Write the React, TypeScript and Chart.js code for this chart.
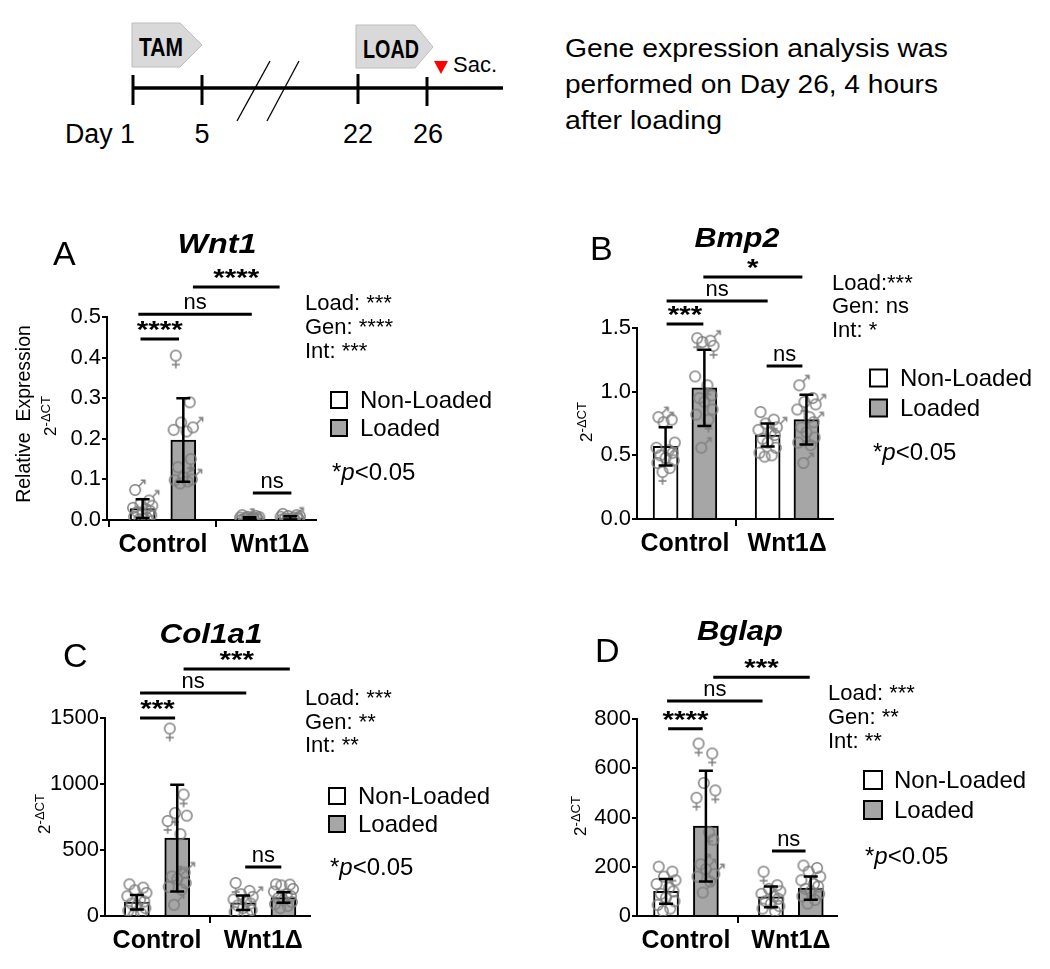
import React, { useEffect, useRef } from "react";
import { Chart, registerables } from "chart.js";
Chart.register(...registerables);

const FONT = "Arial, 'Liberation Sans', Helvetica, sans-serif";
const GROUPS = ["Control", "Wnt1Δ"];
const SERIES = ["Non-Loaded", "Loaded"];
const BAR_GREY = "#a6a6a6";
const PT_GREY = "#7f7f7f";

// ---------- Panel A : Wnt1 ----------
const A_MEAN_NL = [0.028, 0.004];
const A_MEAN_L = [0.197, 0.005];
const A_SD_NL = [0.023, 0.003];
const A_SD_L = [0.103, 0.004];
const A_CTRL_NL = [0.074, 0.048, 0.04, 0.035, 0.03, 0.027, 0.022, 0.02, 0.015, 0.012, 0.008, 0.005, 0.002];
const A_CTRL_NL_SEX = "mmoooooooooof";
const A_CTRL_L = [0.405, 0.29, 0.24, 0.228, 0.222, 0.218, 0.15, 0.13, 0.105, 0.1, 0.098, 0.095, 0.09];
const A_CTRL_L_SEX = "foomoofommooo";
const A_WNT_NL = [0.012, 0.01, 0.008, 0.007, 0.006, 0.005, 0.004, 0.003, 0.002, 0.001, 0.0, 0.004, 0.006];
const A_WNT_NL_SEX = "ooooooomoofoo";
const A_WNT_L = [0.015, 0.012, 0.01, 0.009, 0.008, 0.006, 0.005, 0.004, 0.003, 0.002, 0.001, 0.0, 0.0];
const A_WNT_L_SEX = "ooooomoooofoo";
const A_TICKS = [0, 0.1, 0.2, 0.3, 0.4, 0.5];
const A_BRACKETS: [number, number, number, string][] = [
  [0.28, 1.09, 0.574, "****"],
  [-0.23, 0.83, 0.507, "ns"],
  [-0.21, 0.15, 0.446, "****"],
  [0.84, 1.2, 0.0665, "ns"],
];
const A_STATS = ["Load: ***", "Gen: ****", "Int: ***"];

// ---------- Panel B : Bmp2 ----------
const B_MEAN_NL = [0.57, 0.66];
const B_MEAN_L = [1.03, 0.78];
const B_SD_NL = [0.15, 0.09];
const B_SD_L = [0.3, 0.195];
const B_CTRL_NL = [0.8, 0.78, 0.76, 0.6, 0.56, 0.54, 0.52, 0.5, 0.48, 0.46, 0.44, 0.4, 0.37];
const B_CTRL_NL_SEX = "momooooomooof";
const B_CTRL_L = [1.42, 1.4, 1.39, 1.36, 1.12, 1.05, 0.97, 0.95, 0.92, 0.86, 0.82, 0.78, 0.56];
const B_CTRL_L_SEX = "fmofofomooofm";
const B_WNT_NL = [0.84, 0.78, 0.75, 0.72, 0.7, 0.68, 0.66, 0.63, 0.6, 0.56, 0.52, 0.5, 0.49];
const B_WNT_NL_SEX = "ofomooooooooo";
const B_WNT_L = [1.05, 0.95, 0.92, 0.9, 0.86, 0.8, 0.76, 0.72, 0.68, 0.64, 0.6, 0.58, 0.44];
const B_WNT_L_SEX = "mofmoomofooom";
const B_TICKS = [0, 0.5, 1.0, 1.5];
const B_BRACKETS: [number, number, number, string][] = [
  [0.18, 1.15, 1.901, "*"],
  [-0.18, 0.81, 1.712, "ns"],
  [-0.18, 0.18, 1.532, "***"],
  [0.8, 1.15, 1.202, "ns"],
];
const B_STATS = ["Load:***", "Gen: ns", "Int: *"];

// ---------- Panel C : Col1a1 ----------
const C_MEAN_NL = [105, 100];
const C_MEAN_L = [590, 140];
const C_SD_NL = [55, 55];
const C_SD_L = [405, 40];
const C_CTRL_NL = [240, 215, 195, 175, 150, 125, 110, 95, 80, 60, 40, 20, 5];
const C_CTRL_NL_SEX = "ooooooooooooo";
const C_CTRL_L = [1420, 920, 780, 760, 720, 620, 330, 300, 280, 250, 220, 200, 85];
const C_CTRL_L_SEX = "fffofommmomom";
const C_WNT_NL = [250, 190, 165, 145, 125, 110, 95, 80, 60, 45, 30, 15];
const C_WNT_NL_SEX = "foomoooooooo";
const C_WNT_L = [240, 238, 232, 205, 185, 165, 150, 135, 120, 105, 90, 75, 60];
const C_WNT_L_SEX = "ooooooooooooo";
const C_TICKS = [0, 500, 1000, 1500];
const C_BRACKETS: [number, number, number, string][] = [
  [0.25, 1.25, 1871, "***"],
  [-0.16, 0.84, 1689, "ns"],
  [-0.16, 0.17, 1500, "***"],
  [0.83, 1.17, 371, "ns"],
];
const C_STATS = ["Load: ***", "Gen: **", "Int: **"];

// ---------- Panel D : Bglap ----------
const D_MEAN_NL = [100, 78];
const D_MEAN_L = [365, 113];
const D_SD_NL = [50, 42];
const D_SD_L = [225, 47];
const D_CTRL_NL = [200, 180, 160, 145, 130, 115, 100, 90, 75, 60, 45, 30, 20];
const D_CTRL_NL_SEX = "ofooooooooooo";
const D_CTRL_L = [700, 660, 540, 510, 480, 340, 310, 210, 190, 170, 160, 140, 95];
const D_CTRL_L_SEX = "ffofffommmoom";
const D_WNT_NL = [180, 125, 110, 100, 90, 80, 70, 60, 50, 40, 30, 20];
const D_WNT_NL_SEX = "fooooooooooo";
const D_WNT_L = [205, 195, 180, 160, 145, 130, 120, 110, 100, 90, 80, 65, 50];
const D_WNT_L_SEX = "ooooooooooooo";
const D_TICKS = [0, 200, 400, 600, 800];
const D_BRACKETS: [number, number, number, string][] = [
  [0.26, 1.18, 970, "***"],
  [-0.18, 0.73, 873, "ns"],
  [-0.17, 0.16, 760, "****"],
  [0.82, 1.14, 264, "ns"],
];
const D_STATS = ["Load: ***", "Gen: **", "Int: **"];

// layout constants
const OFF = 0.19; // half distance between bars of a group (category units)
const JITTER = [-0.07, 0.06, -0.02, 0.09, -0.09, 0.03, 0.07, -0.05, 0.0, 0.08, -0.08, 0.04, -0.03, 0.05];
const YW = 60;
const XH = 45;
const CAP = 7;

interface PanelCfg {
  letter: string;
  title: string;
  titleW: number;
  meanNL: number[];
  meanL: number[];
  sdNL: number[];
  sdL: number[];
  points: number[][];
  sexes: string[];
  yTicks: number[];
  decimals: number;
  brackets: [number, number, number, string][];
  stats: string[];
  area: [number, number, number, number]; // l,t,r,b
  xRange: [number, number];
  letterAt: [number, number];
  titleAt: [number, number];
  statsAt: [number, number[]];
  legendAt: [number, number, number, number, number];
  pAt: [number, number];
  yTitleAt: [number, number];
  relAt?: [number, number];
}

const PANELS: PanelCfg[] = [
  {
    letter: "A", title: "Wnt1", titleW: 79,
    meanNL: A_MEAN_NL, meanL: A_MEAN_L, sdNL: A_SD_NL, sdL: A_SD_L,
    points: [A_CTRL_NL, A_CTRL_L, A_WNT_NL, A_WNT_L],
    sexes: [A_CTRL_NL_SEX, A_CTRL_L_SEX, A_WNT_NL_SEX, A_WNT_L_SEX],
    yTicks: A_TICKS, decimals: 1, brackets: A_BRACKETS, stats: A_STATS,
    area: [107, 317, 316, 520], xRange: [-0.523, 1.43],
    letterAt: [53, 265], titleAt: [217, 253], statsAt: [305, [310, 334, 358]],
    legendAt: [331, 400, 428, 360, 16], pAt: [332, 473], yTitleAt: [48, 416], relAt: [25, 414],
  },
  {
    letter: "B", title: "Bmp2", titleW: 85,
    meanNL: B_MEAN_NL, meanL: B_MEAN_L, sdNL: B_SD_NL, sdL: B_SD_L,
    points: [B_CTRL_NL, B_CTRL_L, B_WNT_NL, B_WNT_L],
    sexes: [B_CTRL_NL_SEX, B_CTRL_L_SEX, B_WNT_NL_SEX, B_WNT_L_SEX],
    yTicks: B_TICKS, decimals: 1, brackets: B_BRACKETS, stats: B_STATS,
    area: [637, 328, 833, 519], xRange: [-0.47, 1.45],
    letterAt: [590, 260], titleAt: [737, 247], statsAt: [832, [290, 313, 337]],
    legendAt: [870, 378, 408, 900, 17], pAt: [873, 453], yTitleAt: [584, 422],
  },
  {
    letter: "C", title: "Col1a1", titleW: 103,
    meanNL: C_MEAN_NL, meanL: C_MEAN_L, sdNL: C_SD_NL, sdL: C_SD_L,
    points: [C_CTRL_NL, C_CTRL_L, C_WNT_NL, C_WNT_L],
    sexes: [C_CTRL_NL_SEX, C_CTRL_L_SEX, C_WNT_NL_SEX, C_WNT_L_SEX],
    yTicks: C_TICKS, decimals: 0, brackets: C_BRACKETS, stats: C_STATS,
    area: [105, 718, 310, 916], xRange: [-0.49, 1.44],
    letterAt: [63, 667], titleAt: [211, 643], statsAt: [305, [705, 729, 752]],
    legendAt: [329, 796, 824, 358, 16], pAt: [330, 868], yTitleAt: [42, 814],
  },
  {
    letter: "D", title: "Bglap", titleW: 86,
    meanNL: D_MEAN_NL, meanL: D_MEAN_L, sdNL: D_SD_NL, sdL: D_SD_L,
    points: [D_CTRL_NL, D_CTRL_L, D_WNT_NL, D_WNT_L],
    sexes: [D_CTRL_NL_SEX, D_CTRL_L_SEX, D_WNT_NL_SEX, D_WNT_L_SEX],
    yTicks: D_TICKS, decimals: 0, brackets: D_BRACKETS, stats: D_STATS,
    area: [637, 719, 837, 916], xRange: [-0.467, 1.44],
    letterAt: [595, 662], titleAt: [740, 640], statsAt: [828, [700, 724, 748]],
    legendAt: [864, 780, 810, 894, 18], pAt: [865, 857], yTitleAt: [578, 816],
  },
];

function makeGlyph(kind: string): HTMLCanvasElement {
  const c = document.createElement("canvas");
  const S = 30;
  c.width = S;
  c.height = S;
  const g = c.getContext("2d")!;
  g.strokeStyle = PT_GREY;
  g.lineWidth = 1.5;
  const cx = S / 2, cy = S / 2, r = 5.2;
  g.beginPath();
  g.arc(cx, cy, r, 0, Math.PI * 2);
  g.stroke();
  if (kind === "f") {
    g.beginPath();
    g.moveTo(cx, cy + r);
    g.lineTo(cx, cy + r + 7.5);
    g.moveTo(cx - 4, cy + r + 3.8);
    g.lineTo(cx + 4, cy + r + 3.8);
    g.stroke();
  } else if (kind === "m") {
    const d = Math.SQRT1_2;
    const x0 = cx + r * d, y0 = cy - r * d, x1 = x0 + 6, y1 = y0 - 6;
    g.beginPath();
    g.moveTo(x0, y0);
    g.lineTo(x1, y1);
    g.moveTo(x1 - 4, y1);
    g.lineTo(x1, y1);
    g.lineTo(x1, y1 + 4);
    g.stroke();
  }
  return c;
}

function drawText(
  ctx: CanvasRenderingContext2D, s: string, x: number, y: number, size: number,
  o: { weight?: string; style?: string; align?: string; base?: CanvasTextBaseline; w?: number } = {}
) {
  ctx.save();
  ctx.font = `${o.style || "normal"} ${o.weight || "normal"} ${size}px ${FONT}`;
  ctx.fillStyle = "#000";
  ctx.textAlign = "left";
  ctx.textBaseline = o.base || "alphabetic";
  const mw = ctx.measureText(s).width;
  const sx = o.w ? o.w / mw : 1;
  const tw = mw * sx;
  let x0 = x;
  if (o.align === "center") x0 = x - tw / 2;
  else if (o.align === "right") x0 = x - tw;
  ctx.translate(x0, y);
  ctx.scale(sx, 1);
  ctx.fillText(s, 0, 0);
  ctx.restore();
  return tw;
}

function decorPlugin(p: PanelCfg) {
  return {
    id: "decor" + p.letter,
    afterDatasetsDraw(chart: any) {
      const ctx: CanvasRenderingContext2D = chart.ctx;
      const xs = chart.scales.x, ys = chart.scales.y;
      ctx.save();
      ctx.strokeStyle = "#000";
      ctx.lineWidth = 2.5;
      const sets: [number[], number[], number][] = [
        [p.meanNL, p.sdNL, -OFF],
        [p.meanL, p.sdL, OFF],
      ];
      sets.forEach(([m, sd, off]) =>
        m.forEach((v, i) => {
          const x = xs.getPixelForValue(i + off);
          const yHi = ys.getPixelForValue(v + sd[i]);
          const yLo = ys.getPixelForValue(Math.max(0, v - sd[i]));
          ctx.beginPath();
          ctx.moveTo(x, yHi);
          ctx.lineTo(x, yLo);
          ctx.moveTo(x - CAP, yHi);
          ctx.lineTo(x + CAP, yHi);
          ctx.moveTo(x - CAP, yLo);
          ctx.lineTo(x + CAP, yLo);
          ctx.stroke();
        })
      );
      ctx.restore();
    },
    afterDraw(chart: any) {
      const ctx: CanvasRenderingContext2D = chart.ctx;
      const xs = chart.scales.x, ys = chart.scales.y;
      // panel letter & title
      drawText(ctx, p.letter, p.letterAt[0], p.letterAt[1], 34);
      drawText(ctx, p.title, p.titleAt[0], p.titleAt[1], 27, { weight: "bold", style: "italic", align: "center", w: p.titleW });
      // brackets
      ctx.save();
      ctx.strokeStyle = "#000";
      ctx.lineWidth = 3;
      p.brackets.forEach(([x1, x2, yv, label]) => {
        const a = xs.getPixelForValue(x1), b = xs.getPixelForValue(x2), y = ys.getPixelForValue(yv);
        ctx.beginPath();
        ctx.moveTo(a, y);
        ctx.lineTo(b, y);
        ctx.stroke();
        const cx = (a + b) / 2;
        if (label === "ns") drawText(ctx, label, cx, y - 5, 22, { align: "center" });
        else drawText(ctx, label, cx, y - 1, 24, { weight: "bold", align: "center", w: label.length * 11.5 });
      });
      ctx.restore();
      // stats
      p.stats.forEach((s, i) => drawText(ctx, s, p.statsAt[0], p.statsAt[1][i], 22));
      // legend
      const [bx, y1, y2, tx, bs] = p.legendAt;
      ctx.save();
      ctx.lineWidth = 2;
      ctx.strokeStyle = "#000";
      [[y1, "#ffffff"], [y2, BAR_GREY]].forEach(([cy, fill]: any, i) => {
        ctx.fillStyle = fill;
        ctx.fillRect(bx, cy - bs / 2, bs, bs);
        ctx.strokeRect(bx, cy - bs / 2, bs, bs);
        drawText(ctx, SERIES[i], tx, cy + 1, 24, { base: "middle" });
      });
      ctx.restore();
      // p value
      let px = p.pAt[0];
      px += drawText(ctx, "*", px, p.pAt[1], 24, { base: "middle" });
      px += drawText(ctx, "p", px, p.pAt[1], 24, { base: "middle", style: "italic" });
      drawText(ctx, "<0.05", px, p.pAt[1], 24, { base: "middle" });
      // y-axis title 2^-ΔCT
      ctx.save();
      ctx.translate(p.yTitleAt[0], p.yTitleAt[1]);
      ctx.rotate(-Math.PI / 2);
      ctx.font = `17px ${FONT}`;
      const w2 = ctx.measureText("2").width;
      ctx.font = `13px ${FONT}`;
      const ws = ctx.measureText("-ΔCT").width;
      const st = -(w2 + ws) / 2;
      drawText(ctx, "2", st, 3, 17, { base: "middle" });
      drawText(ctx, "-ΔCT", st + w2, -2, 13, { base: "middle" });
      if (p.relAt) {
        ctx.restore();
        ctx.save();
        ctx.translate(p.relAt[0], p.relAt[1]);
        ctx.rotate(-Math.PI / 2);
        drawText(ctx, "Relative  Expression", 0, 0, 19.5, { base: "middle", align: "center" });
      }
      ctx.restore();
    },
  };
}

function buildConfig(p: PanelCfg, glyphs: Record<string, HTMLCanvasElement>): any {
  const [l, t, r, b] = p.area;
  const barCommon = {
    type: "bar",
    borderColor: "#000",
    borderWidth: 2,
    grouped: false,
    barPercentage: 1,
    categoryPercentage: 1,
    maxBarThickness: 25,
    order: 2,
  };
  const scatterSets = p.points.map((vals, g) => {
    const center = Math.floor(g / 2) + (g % 2 ? OFF : -OFF);
    return {
      type: "scatter",
      label: `${GROUPS[Math.floor(g / 2)]} ${SERIES[g % 2]}`,
      data: vals.map((v, k) => ({ x: center + JITTER[k % JITTER.length], y: v })),
      pointStyle: p.sexes[g].split("").map((s) => glyphs[s] || glyphs.o),
      pointRadius: 5,
      order: 1,
    };
  });
  const axisGrid = {
    display: true,
    drawOnChartArea: false,
    drawTicks: true,
    color: "#000",
    lineWidth: 2,
  };
  return {
    type: "bar",
    data: {
      datasets: [
        { ...barCommon, label: SERIES[0], backgroundColor: "#ffffff", data: p.meanNL.map((v, i) => ({ x: i - OFF, y: v })) },
        { ...barCommon, label: SERIES[1], backgroundColor: BAR_GREY, data: p.meanL.map((v, i) => ({ x: i + OFF, y: v })) },
        ...scatterSets,
      ],
    },
    options: {
      responsive: false,
      animation: false,
      events: [],
      layout: { padding: { left: l - YW, top: t, right: 1050 - r, bottom: 969 - b - XH } },
      plugins: { legend: { display: false }, tooltip: { enabled: false }, title: { display: false } },
      scales: {
        x: {
          type: "linear",
          min: p.xRange[0],
          max: p.xRange[1],
          offset: false,
          afterBuildTicks: (s: any) => { s.ticks = [{ value: 0 }, { value: 1 }]; },
          afterFit: (s: any) => { s.height = XH; },
          ticks: {
            autoSkip: false,
            maxRotation: 0,
            padding: 3,
            color: "#000",
            font: { family: FONT, size: 25, weight: "bold" },
            callback: (_v: any, i: number) => GROUPS[i],
          },
          grid: { ...axisGrid, tickLength: 7 },
          border: { display: true, color: "#000", width: 2 },
        },
        y: {
          type: "linear",
          min: p.yTicks[0],
          max: p.yTicks[p.yTicks.length - 1],
          afterBuildTicks: (s: any) => { s.ticks = p.yTicks.map((v) => ({ value: v })); },
          afterFit: (s: any) => { s.width = YW; },
          ticks: {
            padding: 1,
            color: "#000",
            font: { family: FONT, size: 22 },
            callback: (v: any) => Number(v).toFixed(p.decimals),
          },
          grid: { ...axisGrid, tickLength: 5 },
          border: { display: true, color: "#000", width: 2 },
        },
      },
    },
    plugins: [decorPlugin(p)],
  };
}

function PanelCanvas({ p }: { p: PanelCfg }) {
  const ref = useRef<HTMLCanvasElement | null>(null);
  useEffect(() => {
    const glyphs = { o: makeGlyph("o"), m: makeGlyph("m"), f: makeGlyph("f") };
    const chart = new Chart(ref.current!, buildConfig(p, glyphs));
    return () => chart.destroy();
  }, [p]);
  return (
    <canvas
      ref={ref}
      width={1050}
      height={969}
      style={{ position: "absolute", left: 0, top: 0, width: 1050, height: 969 }}
    />
  );
}

function Timeline() {
  const f = FONT;
  return (
    <svg width={1050} height={200} style={{ position: "absolute", left: 0, top: 0 }}>
      <polygon points="132,23 180,23 202,45 180,67 132,67" fill="#d9d9d9" stroke="#bdbdbd" strokeWidth={1} />
      <text x={161} y={56} textAnchor="middle" fontFamily={f} fontWeight="bold" fontSize={26} textLength={44} lengthAdjust="spacingAndGlyphs">TAM</text>
      <polygon points="356,25 415,25 433,47 415,68 356,68" fill="#d9d9d9" stroke="#bdbdbd" strokeWidth={1} />
      <text x={391} y={58} textAnchor="middle" fontFamily={f} fontWeight="bold" fontSize={26} textLength={56} lengthAdjust="spacingAndGlyphs">LOAD</text>
      <line x1={133} y1={88} x2={503} y2={88} stroke="#000" strokeWidth={3.5} />
      <line x1={133} y1={75} x2={133} y2={105} stroke="#000" strokeWidth={3} />
      <line x1={202} y1={75} x2={202} y2={105} stroke="#000" strokeWidth={3} />
      <line x1={358} y1={74} x2={358} y2={104} stroke="#000" strokeWidth={3} />
      <line x1={427} y1={77} x2={427} y2={106} stroke="#000" strokeWidth={3} />
      <line x1={237} y1={121} x2={270} y2={61} stroke="#000" strokeWidth={1.3} />
      <line x1={267} y1={121} x2={299} y2={61} stroke="#000" strokeWidth={1.3} />
      <polygon points="434,61 448,61 441,74" fill="#ff0000" />
      <text x={453} y={72} fontFamily={f} fontSize={22}>Sac.</text>
      <text x={65} y={143} fontFamily={f} fontSize={27} textLength={70} lengthAdjust="spacingAndGlyphs">Day 1</text>
      <text x={202} y={143} textAnchor="middle" fontFamily={f} fontSize={27}>5</text>
      <text x={358} y={143} textAnchor="middle" fontFamily={f} fontSize={27}>22</text>
      <text x={428} y={143} textAnchor="middle" fontFamily={f} fontSize={27}>26</text>
      <text x={565} y={57} fontFamily={f} fontSize={26} textLength={383} lengthAdjust="spacingAndGlyphs">Gene expression analysis was</text>
      <text x={565} y={93} fontFamily={f} fontSize={26} textLength={373} lengthAdjust="spacingAndGlyphs">performed on Day 26, 4 hours</text>
      <text x={565} y={129} fontFamily={f} fontSize={26} textLength={157} lengthAdjust="spacingAndGlyphs">after loading</text>
    </svg>
  );
}

export default function App() {
  return (
    <div style={{ position: "absolute", left: 0, top: 0, width: 1050, height: 969, background: "#fff" }}>
      <Timeline />
      {PANELS.map((p) => (
        <PanelCanvas key={p.letter} p={p} />
      ))}
    </div>
  );
}
